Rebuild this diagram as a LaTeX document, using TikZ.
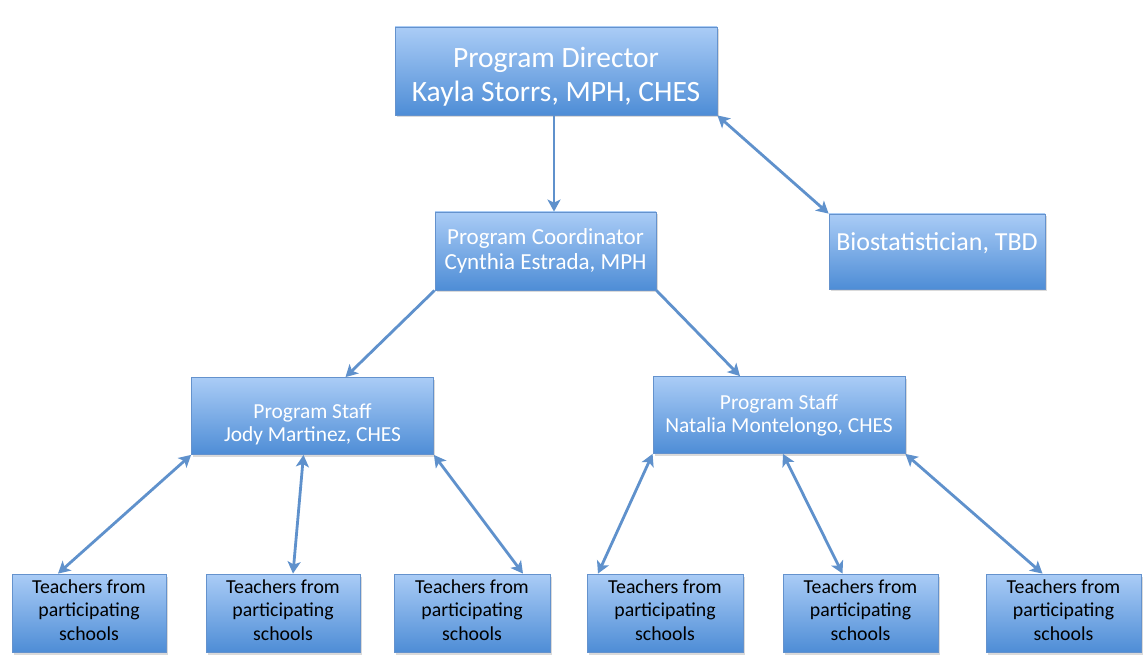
\documentclass[tikz,border=0pt]{standalone}
\usepackage{fontspec}
\setmainfont{Carlito}
\usetikzlibrary{arrows.meta,shadows}
\definecolor{boxtop}{RGB}{170,204,246}
\definecolor{boxbot}{RGB}{78,141,214}
\definecolor{boxline}{RGB}{100,146,205}
\definecolor{linec}{RGB}{95,145,204}
\definecolor{shadowc}{RGB}{150,150,150}
\tikzset{
  orgbox/.style={draw=boxline, line width=0.8pt, top color=boxtop, bottom color=boxbot,
    inner sep=0pt, align=center, text=white,
    drop shadow={shadow xshift=1.5pt, shadow yshift=-2.5pt, opacity=0.35, fill=shadowc}},
  teachbox/.style={orgbox, text=black},
  conn/.style={draw=linec, line width=2.8pt, -{Stealth[length=12pt,width=13pt,inset=3pt]}},
  dconn/.style={draw=linec, line width=2.8pt, {Stealth[length=12pt,width=13pt,inset=3pt]}-{Stealth[length=12pt,width=13pt,inset=3pt]}}
}
\begin{document}
\begin{tikzpicture}[x=1pt,y=-1pt]
\useasboundingbox[fill=white] (0,0) rectangle (1144,660);
\node[orgbox, minimum width=322pt, minimum height=88pt, font=\fontsize{29.5}{34}\selectfont] (dir) at (556,71)
  {\rule{0pt}{32pt}Program Director\\Kayla Storrs, MPH, CHES};
\node[orgbox, minimum width=221pt, minimum height=78pt, font=\fontsize{23}{25}\selectfont] (coord) at (545.5,251)
  {Program Coordinator\\Cynthia Estrada, MPH};
\node[orgbox, minimum width=216pt, minimum height=75pt, font=\fontsize{26}{30}\selectfont] (bio) at (937,251.5)
  {Biostatistician, TBD\rule[-20pt]{0pt}{20pt}};
\node[orgbox, minimum width=242pt, minimum height=77pt, font=\fontsize{21.4}{23}\selectfont] (sL) at (312.5,416)
  {\rule{0pt}{32pt}Program Staff\\Jody Martinez, CHES};
\node[orgbox, minimum width=252pt, minimum height=77pt, font=\fontsize{21.4}{23}\selectfont] (sR) at (779,415)
  {Program Staff\\Natalia Montelongo, CHES};
\foreach \n/\x/\w in {t1/89/154, t2/283/154, t3/472/156, t4/665/156, t5/860.5/155, t6/1063.5/155}{
  \node[teachbox, minimum width=\w pt, minimum height=78pt, font=\fontsize{19.8}{23.5}\selectfont] (\n) at (\x,613)
    {Teachers from\\participating\\schools\rule[-6pt]{0pt}{6pt}};
}
\draw[conn] ([xshift=-2pt]dir.south) -- ([xshift=-2pt]dir.south |- coord.north);
\draw[dconn] (dir.south east) -- (bio.north west);
\draw[conn] (coord.south west) -- ([xshift=33pt]sL.north);
\draw[conn] (coord.south east) -- ([xshift=-39pt]sR.north);
\draw[dconn] (sL.south west) -- ([xshift=-31pt]t1.north);
\draw[dconn] ([xshift=-9pt]sL.south) -- ([xshift=10pt]t2.north);
\draw[dconn] (sL.south east) -- ([xshift=51pt]t3.north);
\draw[dconn] (sR.south west) -- ([xshift=-67pt]t4.north);
\draw[dconn] ([xshift=4pt]sR.south) -- ([xshift=-18pt]t5.north);
\draw[dconn] (sR.south east) -- ([xshift=-21pt]t6.north);
\end{tikzpicture}
\end{document}
